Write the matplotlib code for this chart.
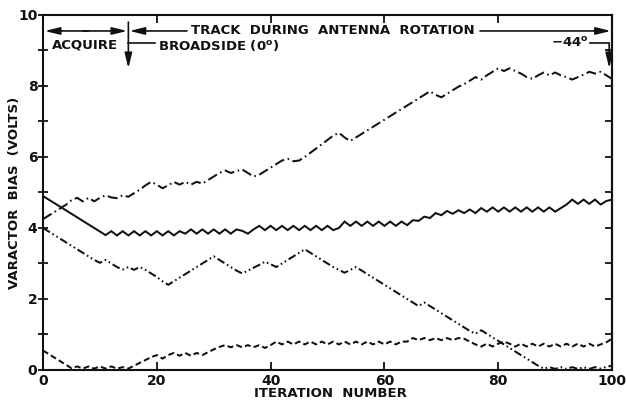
import matplotlib
matplotlib.use("Agg")
import matplotlib.pyplot as plt
import numpy as np

plt.rcParams['font.family'] = ['DejaVu Sans']
plt.rcParams['mathtext.default'] = 'regular'

# Iteration index 0..100
iterations = list(range(101))

# Varactor bias (volts) for the four elements, one value per iteration
bias_solid = [
    4.90, 4.80, 4.70, 4.60, 4.50, 4.40, 4.30, 4.20, 4.10, 4.00,
    3.90, 3.80, 3.91, 3.79, 3.91, 3.79, 3.91, 3.79, 3.91, 3.79,
    3.91, 3.79, 3.91, 3.79, 3.91, 3.84, 3.96, 3.84, 3.96, 3.84,
    3.96, 3.84, 3.96, 3.84, 3.96, 3.92, 3.84, 3.96, 4.06, 3.94,
    4.06, 3.94, 4.06, 3.94, 4.06, 3.94, 4.06, 3.94, 4.06, 3.94,
    4.06, 3.94, 4.00, 4.18, 4.06, 4.18, 4.06, 4.18, 4.06, 4.18,
    4.06, 4.18, 4.06, 4.18, 4.08, 4.22, 4.20, 4.32, 4.28, 4.42,
    4.36, 4.48, 4.40, 4.50, 4.42, 4.52, 4.42, 4.56, 4.46, 4.58,
    4.46, 4.58, 4.46, 4.58, 4.46, 4.58, 4.46, 4.58, 4.46, 4.58,
    4.46, 4.56, 4.66, 4.80, 4.68, 4.80, 4.68, 4.80, 4.66, 4.76,
    4.80,
]

bias_dashdot = [
    4.25, 4.35, 4.45, 4.55, 4.65, 4.78, 4.85, 4.75, 4.85, 4.75,
    4.85, 4.92, 4.86, 4.84, 4.92, 4.88, 4.98, 5.08, 5.20, 5.30,
    5.22, 5.12, 5.20, 5.30, 5.22, 5.30, 5.22, 5.30, 5.25, 5.35,
    5.45, 5.55, 5.62, 5.55, 5.60, 5.65, 5.55, 5.45, 5.50, 5.60,
    5.70, 5.80, 5.90, 5.95, 5.88, 5.90, 6.00, 6.12, 6.24, 6.36,
    6.48, 6.60, 6.68, 6.55, 6.45, 6.55, 6.65, 6.75, 6.85, 6.95,
    7.05, 7.15, 7.25, 7.35, 7.45, 7.55, 7.65, 7.75, 7.85, 7.75,
    7.68, 7.78, 7.88, 7.98, 8.05, 8.15, 8.25, 8.18, 8.30, 8.40,
    8.50, 8.42, 8.50, 8.42, 8.35, 8.25, 8.20, 8.30, 8.38, 8.30,
    8.38, 8.30, 8.25, 8.18, 8.25, 8.32, 8.40, 8.35, 8.40, 8.30,
    8.20,
]

bias_dashdotdot = [
    4.00, 3.90, 3.80, 3.70, 3.60, 3.50, 3.40, 3.30, 3.20, 3.10,
    3.02, 3.10, 3.00, 2.90, 2.83, 2.90, 2.82, 2.90, 2.82, 2.72,
    2.62, 2.50, 2.40, 2.50, 2.60, 2.70, 2.80, 2.90, 3.00, 3.10,
    3.20, 3.10, 3.00, 2.90, 2.80, 2.72, 2.80, 2.88, 2.96, 3.05,
    2.98, 2.90, 3.00, 3.10, 3.20, 3.30, 3.40, 3.30, 3.20, 3.10,
    3.00, 2.90, 2.82, 2.74, 2.82, 2.90, 2.80, 2.70, 2.60, 2.50,
    2.40, 2.30, 2.20, 2.10, 2.00, 1.90, 1.80, 1.90, 1.80, 1.70,
    1.60, 1.50, 1.40, 1.30, 1.20, 1.10, 1.02, 1.12, 1.02, 0.92,
    0.82, 0.72, 0.62, 0.52, 0.42, 0.32, 0.22, 0.12, 0.04, 0.08,
    0.03, 0.08, 0.03, 0.08, 0.03, 0.08, 0.03, 0.08, 0.04, 0.09,
    0.12,
]

bias_dashed = [
    0.55, 0.45, 0.35, 0.25, 0.15, 0.05, 0.10, 0.04, 0.10, 0.04,
    0.10, 0.04, 0.10, 0.04, 0.08, 0.04, 0.12, 0.20, 0.28, 0.36,
    0.42, 0.32, 0.42, 0.48, 0.40, 0.48, 0.40, 0.48, 0.42, 0.50,
    0.58, 0.65, 0.70, 0.64, 0.70, 0.64, 0.70, 0.64, 0.70, 0.62,
    0.70, 0.80, 0.72, 0.80, 0.72, 0.80, 0.72, 0.80, 0.72, 0.80,
    0.72, 0.80, 0.72, 0.80, 0.72, 0.80, 0.72, 0.80, 0.72, 0.80,
    0.72, 0.80, 0.72, 0.80, 0.80, 0.90, 0.84, 0.90, 0.84, 0.90,
    0.84, 0.90, 0.84, 0.90, 0.88, 0.80, 0.72, 0.66, 0.74, 0.66,
    0.74, 0.80, 0.74, 0.66, 0.74, 0.66, 0.74, 0.66, 0.74, 0.66,
    0.74, 0.66, 0.74, 0.66, 0.74, 0.66, 0.74, 0.66, 0.72, 0.78,
    0.88,
]

x_ticks = [0, 20, 40, 60, 80, 100]
y_ticks = [0, 2, 4, 6, 8, 10]

ink = '#111111'

fig = plt.figure(figsize=(6.26, 4.04), dpi=100)
ax = fig.add_axes([0.0687, 0.0842, 0.909, 0.8787])

lw = 1.45
ax.plot(iterations, bias_solid, color=ink, lw=lw, solid_joinstyle='miter')
ax.plot(iterations, bias_dashdot, color=ink, lw=lw,
        linestyle=(0, (5, 1.8, 0.8, 1.8)))
ax.plot(iterations, bias_dashdotdot, color=ink, lw=lw,
        linestyle=(0, (4, 1.5, 0.8, 1.5, 0.8, 1.5)))
ax.plot(iterations, bias_dashed, color=ink, lw=lw,
        linestyle=(0, (3, 1.6)))

ax.set_xlim(0, 100)
ax.set_ylim(0, 10)

for s in ax.spines.values():
    s.set_linewidth(1.5)
    s.set_color(ink)

ax.set_xticks(x_ticks)
ax.set_yticks(y_ticks)
ax.set_yticks(np.arange(0, 11, 1), minor=True)
ax.tick_params(axis='x', which='major', direction='in', length=6, width=1.3,
               top=True, bottom=True, labelsize=10, pad=3, colors=ink)
ax.tick_params(axis='y', which='both', direction='inout', length=7, width=1.3,
               right=False, labelsize=10, pad=0.5, colors=ink)
for lbl in ax.get_xticklabels() + ax.get_yticklabels():
    lbl.set_fontweight('bold')

# Inward ticks along the right-hand border
ax_r = ax.secondary_yaxis('right')
ax_r.set_yticks(np.arange(0, 11, 1))
ax_r.tick_params(axis='y', direction='in', length=5, width=1.3,
                 labelright=False, colors=ink)
ax_r.spines['right'].set_linewidth(1.5)
ax_r.spines['right'].set_color(ink)

ax.set_xlabel('ITERATION  NUMBER', fontsize=9.5, fontweight='bold', color=ink)
ax.set_ylabel('VARACTOR  BIAS  (VOLTS)', fontsize=9.5, fontweight='bold', color=ink)
ax.xaxis.set_label_coords(0.506, -0.048)
ax.yaxis.set_label_coords(-0.038, 0.5)

# Phase annotations along the top of the plot
txt = dict(fontsize=9.5, fontweight='bold', color=ink, va='center')
arrow_y = 9.55
head = '-|>,head_length=0.9,head_width=0.22'
ap = dict(arrowstyle=head, color=ink, lw=1.2, shrinkA=0, shrinkB=0)

ax.annotate('', xy=(0.3, arrow_y), xytext=(8, arrow_y), arrowprops=ap)
ax.annotate('', xy=(14.8, arrow_y), xytext=(7, arrow_y), arrowprops=ap)
ax.annotate('', xy=(15.2, arrow_y), xytext=(25.3, arrow_y), arrowprops=ap)
ax.annotate('', xy=(99.8, arrow_y), xytext=(76.8, arrow_y), arrowprops=ap)
ax.text(51, arrow_y, 'TRACK  DURING  ANTENNA  ROTATION', ha='center', **txt)

ax.annotate('', xy=(15, 8.5), xytext=(15, 9.8), arrowprops=ap)
ax.plot([15, 19.6], [9.2, 9.2], color=ink, lw=1.2)
ax.text(1.6, 9.15, 'ACQUIRE', ha='left', **txt)
ax.text(20.2, 9.15, 'BROADSIDE (0$^{o}$)', ha='left', **txt)

ax.plot([96.2, 99.5], [9.2, 9.2], color=ink, lw=1.2)
ax.annotate('', xy=(99.5, 8.5), xytext=(99.5, 9.2), arrowprops=ap)
ax.text(95.8, 9.2, '\u221244$^{o}$', ha='right', **txt)

fig.savefig('out.png', dpi=100, facecolor='white')
